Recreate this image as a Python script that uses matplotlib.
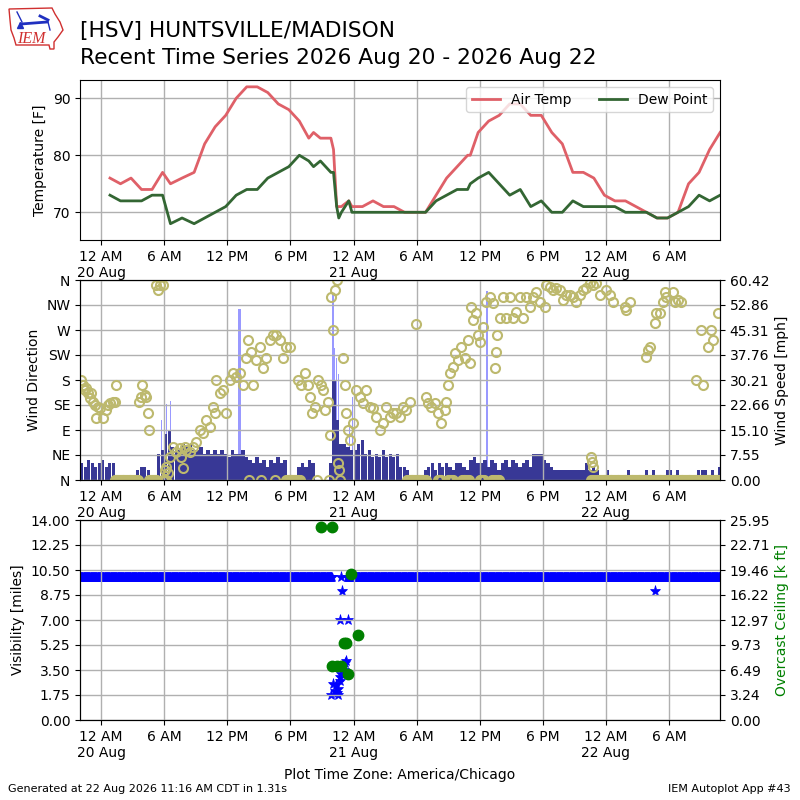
import numpy as np
import matplotlib
matplotlib.use("Agg")
import matplotlib.pyplot as plt
from matplotlib.patches import Polygon

# ---------------- data (x = hours since 20 Aug 2026 00:00 CDT) ----------------
x_range = (-2.0, 58.84)
tick_hours = [0, 6, 12, 18, 24, 30, 36, 42, 48, 54]
tick_labels = ["12 AM\n20 Aug", "6 AM", "12 PM", "6 PM", "12 AM\n21 Aug",
               "6 AM", "12 PM", "6 PM", "12 AM\n22 Aug", "6 AM"]

temp_hours = [0.85, 1.85, 2.85, 3.85, 4.85, 5.85, 6.6, 7.7, 8.85, 9.85, 10.85,
              11.85, 12.85, 13.85, 14.85, 15.85, 16.85, 17.85, 18.85, 19.75,
              20.2, 20.85, 21.85, 22.1, 22.4, 22.6, 22.85, 23.55, 23.85, 24.85,
              25.85, 26.85, 27.85, 28.85, 29.85, 30.85, 31.85, 32.85, 33.85,
              34.85, 35.1, 35.85, 36.85, 37.85, 38.85, 39.85, 40.85, 41.85,
              42.85, 43.85, 44.85, 45.85, 46.85, 47.85, 48.85, 49.85, 50.85,
              51.85, 52.85, 53.85, 54.85, 55.85, 56.85, 57.85, 58.85]
air_temp = [76, 75, 76, 74, 74, 77, 75, 76, 77, 82, 85,
            87, 90, 92, 92, 91, 89, 88, 86, 83,
            84, 83, 83, 81, 71, 71, 71, 72, 71, 71,
            72, 71, 71, 70, 70, 70, 73, 76, 78,
            80, 80, 84, 86, 87, 89, 89, 87, 87,
            84, 82, 77, 77, 76, 73, 72, 72, 71,
            70, 69, 69, 70, 75, 77, 81, 84]
dew_point = [73, 72, 72, 72, 73, 73, 68, 69, 68, 69, 70,
             71, 73, 74, 74, 76, 77, 78, 80, 79,
             78, 79, 77, 77, 71, 69, 70, 72, 70, 70,
             70, 70, 70, 70, 70, 70, 72, 73, 74,
             74, 75, 76, 77, 75, 73, 74, 71, 72,
             70, 70, 72, 71, 71, 71, 71, 70, 70,
             70, 69, 69, 70, 71, 73, 72, 73]

# wind speed [mph], 20-minute blocks starting at hour -2.0
speed_start = -2.0
wind_speed = [5, 4, 6, 5, 4, 5, 6, 4, 5, 5, 0, 0, 0, 0, 0, 0, 3, 4, 4, 3, 0,
              0, 8, 9, 14, 15, 10, 10, 9, 11, 10, 11, 9, 9, 10, 8, 9, 8, 9,
              8, 9, 8, 7, 9, 8, 8, 9, 7, 6, 5, 7, 5, 6, 4, 6, 5, 7, 5, 6, 0,
              0, 0, 4, 5, 4, 6, 5, 0, 0, 0, 0, 5, 30, 18, 11, 11, 10, 9,
              9, 11, 12, 8, 9, 7, 8, 7, 9, 7, 8, 7, 8, 4, 4, 3, 0, 0, 0, 0, 3,
              4, 5, 3, 5, 4, 5, 4, 3, 5, 5, 4, 3, 6, 7, 5, 5, 6, 4, 6, 5, 3,
              5, 6, 4, 6, 5, 4, 5, 6, 4, 8, 8, 8, 6, 5, 4, 3, 3, 3, 3, 3, 3,
              3, 3, 3, 5, 3, 4, 3, 0, 0, 3, 0, 0, 0, 0, 0, 3, 0, 0, 0, 0, 3,
              0, 3, 0, 0, 0, 3, 3, 0, 3, 0, 0, 0, 0, 0, 3, 3, 3, 0, 3, 0, 4]
gust_hours = [5.74, 6.2, 6.6, 13.1, 13.2, 22.05, 22.2, 22.4, 22.6, 23.6, 23.9, 36.7]
gust_speed = [18, 23, 24, 51.6, 51.6, 56.4, 40, 37, 32, 18, 25, 57]
speed_ticklabels = ["0.00", "7.55", "15.10", "22.66", "30.21", "37.76",
                    "45.31", "52.86", "60.42"]
speed_max = 60.416

dir_hours = [-1.87, -1.71, -1.55, -1.39, -1.24, -1.08, -0.92, -0.76, -0.60, -0.44,
             -0.29, -0.13, 0.19, 0.51, 0.67, 0.82, 1.14, 1.30, 1.39,
             3.61, 3.77, 3.93, 4.15, 4.31, 4.47, 4.56,
             5.26, 5.42, 5.58, 5.89, 6.05, 6.21, 6.37, 6.53, 6.84, 7.16, 7.48,
             7.64, 7.79, 7.95, 8.11, 8.43, 8.75, 9.06, 9.38, 9.70, 10.01,
             10.33, 10.65, 10.80, 10.96, 11.28, 11.60, 11.91, 12.23, 12.55,
             12.86, 13.18, 13.50, 13.81, 13.97, 14.29, 14.45, 14.77, 15.08,
             15.40, 15.72, 16.03, 16.35, 16.67, 16.98, 17.30, 17.62, 17.93,
             18.73, 19.04, 19.36, 19.68, 19.84, 20.09, 20.31, 20.63, 20.94,
             21.10, 21.26, 21.58, 21.74, 21.89, 22.05, 22.21, 22.43, 22.53,
             22.62, 23.00, 23.16, 23.32, 23.48, 23.64, 23.95, 24.27, 24.59,
             24.90, 25.22, 25.54, 25.86, 26.17, 26.49, 26.81, 27.12, 27.44,
             27.76, 28.07, 28.39, 28.71, 29.03, 29.35, 29.91, 30.93, 31.09,
             31.40, 31.72, 32.04, 32.36, 32.67, 32.83, 32.99, 33.15, 33.46,
             33.62, 33.94, 34.26, 34.57, 34.89, 35.05, 35.21, 35.37, 35.68,
             35.84, 36.00, 36.31, 36.63, 36.95, 37.27, 37.42, 37.58, 37.64,
             37.90, 38.21, 38.53, 38.85, 39.17, 39.48, 39.80, 40.12, 40.43,
             40.75, 41.07, 41.39, 41.70, 42.18, 42.33, 42.65, 42.97, 43.29,
             43.60, 43.92, 44.24, 44.56, 44.87, 45.19, 45.51, 45.82, 46.14,
             46.46, 46.60, 46.70, 46.77, 46.80, 47.09, 47.41, 48.04, 48.36,
             48.68, 49.79, 49.94, 50.26, 51.84, 52.00, 52.16, 52.64, 52.79,
             53.11, 53.43, 53.59, 53.74, 54.38, 54.54, 54.86, 55.17, 56.60,
             57.07, 57.23, 57.71, 58.02, 58.18, 58.66,
             14.10, 15.20, 16.50, 20.55, 21.70, 22.70]
dir_deg = [180, 171, 162, 165, 156, 147, 156, 141, 135, 111,
           132, 129, 111, 126, 135, 138, 141, 141, 171,
           141, 150, 171, 153, 150, 120, 90,
           351, 342, 351, 351, 18, 24, 12, 42, 60, 51, 57,
           42, 21, 60, 54, 51, 60, 69, 90, 84, 108,
           96, 132, 120, 180, 156, 162, 120, 180, 192,
           186, 192, 171, 219, 252, 231, 171, 216, 240,
           201, 219, 252, 261, 261, 252, 219, 240, 240,
           180, 171, 192, 171, 150, 120, 132, 180, 171,
           162, 126, 141, 81, 330, 270, 342, 360, 30,
           18, 219, 171, 120, 90, 72, 102, 162, 150,
           138, 162, 132, 129, 114, 90, 102, 132, 114,
           120, 120, 114, 132, 126, 141, 280, 150, 138,
           132, 138, 120, 102, 126, 141, 171, 192, 204,
           228, 216, 240, 219, 252, 210, 312, 288, 300,
           261, 249, 276, 321, 330, 318, 201, 231, 261,
           291, 330, 291, 330, 291, 303, 330, 291, 330,
           312, 330, 339, 321, 312, 351, 348, 342, 345,
           342, 324, 333, 333, 330, 321, 333, 342, 345,
           354, 42, 33, 351, 24, 354, 333, 342, 333,
           321, 312, 306, 321, 222, 234, 240, 282, 300,
           300, 321, 339, 330, 339, 321, 324, 321, 180,
           270, 171, 240, 270, 252, 300,
           0, 0, 0, 0, 0, 0]
calm_segments = [(1.3, 3.5), (4.6, 5.3), (5.9, 6.2), (17.6, 19.0), (29.1, 30.9),
                 (32.0, 32.4), (33.0, 33.5), (34.3, 35.0), (36.0, 36.5),
                 (37.2, 37.9), (46.6, 58.84)]
dir_ticks = [0, 45, 90, 135, 180, 225, 270, 315, 360]
dir_labels = ["N", "NE", "E", "SE", "S", "SW", "W", "NW", "N"]

# visibility [miles]: steady 10 mi periods plus the lower reports
vis_steady_segments = [(-2.0, 21.95), (23.4, 58.84)]
vis_steady_value = 10.0
vis_hours = [22.85, 22.91, 22.69, 23.48, 23.17, 23.25, 23.07, 22.69, 22.05,
             22.37, 22.53, 22.21, 21.90, 22.53, 22.40, 22.70, 22.80, 52.7]
vis_miles = [10.0, 9.0, 7.0, 7.0, 4.0, 4.1, 3.5, 3.0, 2.5,
             2.45, 2.2, 2.0, 1.75, 1.75, 1.9, 2.75, 3.25, 9.0]
vis_max = 14.0

ceil_hours = [20.9, 21.96, 23.8, 24.43, 23.05, 23.25, 22.0, 22.4, 22.8, 23.48]
ceil_kft = [25.0, 25.0, 18.94, 11.03, 9.95, 9.95, 7.0, 7.0, 7.0, 5.97]
ceil_max = 25.95
ceil_ticklabels = ["0.00", "3.24", "6.49", "9.73", "12.97", "16.22", "19.46",
                   "22.71", "25.95"]

# ---------------- figure ----------------
plt.rcParams['font.family'] = ['DejaVu Sans']
fig = plt.figure(figsize=(8, 8), dpi=100)

def style_x(ax):
    ax.set_xlim(*x_range)
    ax.set_xticks(tick_hours)
    ax.set_xticklabels(tick_labels, fontsize=10)

# --- temperature panel
ax1 = fig.add_axes([0.1, 0.7, 0.8, 0.2])
ax1.plot(temp_hours, air_temp, color="#df6068", lw=2, label="Air Temp")
ax1.plot(temp_hours, dew_point, color="#336633", lw=2, label="Dew Point")
ax1.set_ylim(65.14, 93.2)
ax1.set_yticks([70, 80, 90])
ax1.tick_params(labelsize=10)
ax1.set_ylabel("Temperature [F]", fontsize=10)
ax1.grid(True, color="#b0b0b0", lw=1)
style_x(ax1)
ax1.legend(loc="upper right", ncol=2, fontsize=10, framealpha=0.8)

# --- wind panel
ax2 = fig.add_axes([0.1, 0.4, 0.8, 0.25])
ax2b = ax2.twinx()
bar_left = speed_start + np.arange(len(wind_speed)) / 3.0
ax2b.bar(gust_hours, gust_speed, width=0.12, color="#9999ff", lw=0, align="center")
ax2b.bar(bar_left, wind_speed, width=(1 / 3.0) * 0.95, align="edge",
         color="#383896", lw=0)
ax2b.set_ylim(0, speed_max)
ax2b.set_yticks(np.linspace(0, speed_max, 9))
ax2b.set_yticklabels(speed_ticklabels, fontsize=10)
ax2b.set_ylabel("Wind Speed [mph]", fontsize=10)

calm_h = np.concatenate([np.arange(a, b, 1 / 12.0) for a, b in calm_segments])
ax2.set_zorder(ax2b.get_zorder() + 1)
ax2.patch.set_visible(False)
ax2.plot(list(dir_hours) + list(calm_h), list(dir_deg) + [0] * len(calm_h),
         "o", mfc="none", mec="#bdb96e", ms=6.5, mew=1.5, ls="none")
ax2.set_ylim(0, 360)
ax2.set_yticks(dir_ticks)
ax2.set_yticklabels(dir_labels, fontsize=10)
ax2.set_ylabel("Wind Direction", fontsize=10)
ax2.grid(True, color="#b0b0b0", lw=1)
style_x(ax2)

# --- visibility / ceiling panel
ax3 = fig.add_axes([0.1, 0.1, 0.8, 0.25])
ax3b = ax3.twinx()
steady_h = np.concatenate([np.arange(a, b, 1 / 30.0) for a, b in vis_steady_segments])
ax3.plot(steady_h, [vis_steady_value] * len(steady_h), "*", color="b",
         ms=7.5, mew=0.5, ls="none", zorder=2)
ax3.plot(vis_hours, vis_miles, "*", color="b", ms=8, mew=0.5, ls="none", zorder=2)
ax3.set_ylim(0, vis_max)
vt = np.linspace(0, vis_max, 9)
ax3.set_yticks(vt)
ax3.set_yticklabels(["%.2f" % v for v in vt], fontsize=10)
ax3.set_ylabel("Visibility [miles]", fontsize=10)
ax3.set_axisbelow(False)
ax3.grid(True, color="#b0b0b0", lw=1)
style_x(ax3)

ax3b.plot(ceil_hours, ceil_kft, "o", color="g", ms=7.5, ls="none")
ax3b.set_ylim(0, ceil_max)
ax3b.set_yticks(np.linspace(0, ceil_max, 9))
ax3b.set_yticklabels(ceil_ticklabels, fontsize=10)
ax3b.set_ylabel("Overcast Ceiling [k ft]", fontsize=10, color="g")
ax3b.set_xlim(*x_range)

# --- titles and footers
fig.text(0.1, 1 - 36.5 / 800, "[HSV] HUNTSVILLE/MADISON", fontsize=15.7, va="baseline")
fig.text(0.1, 1 - 63.5 / 800, "Recent Time Series 2026 Aug 20 - 2026 Aug 22",
         fontsize=15.7, va="baseline")
fig.text(0.5, 1 - 775 / 800, "Plot Time Zone: America/Chicago", fontsize=10,
         ha="center", va="center")
fig.text(8 / 800, 1 - 789 / 800, "Generated at 22 Aug 2026 11:16 AM CDT in 1.31s",
         fontsize=8, ha="left", va="center")
fig.text(791 / 800, 1 - 789 / 800, "IEM Autoplot App #43", fontsize=8,
         ha="right", va="center")

# --- logo (approximation)
axl = fig.add_axes([0.0, 1 - 54 / 800, 72 / 800, 54 / 800])
axl.set_xlim(0, 72)
axl.set_ylim(54, 0)
axl.axis("off")
outline = [(9, 9), (52, 8), (55, 14), (60, 22), (63, 30), (58, 37), (54, 42),
           (54, 49), (50, 49), (49, 45), (16, 45), (14, 38), (11, 30), (10, 20)]
axl.add_patch(Polygon(outline, closed=True, fill=False, ec="#d03030", lw=1))
axl.plot([21, 47], [24, 22], color="#2030c0", lw=2)
axl.plot([17, 22], [12, 22], color="#2030c0", lw=1)
axl.plot([40, 48], [16, 20], color="#2030c0", lw=2)
axl.plot([48, 50], [22, 30], color="#2030c0", lw=1)
axl.plot([20], [25], marker="^", color="#2030c0", ms=4)
axl.text(31, 39, "IEM", color="#d03030", fontsize=11.5, family="Liberation Serif",
         style="italic", ha="center", va="center")

fig.savefig("out.png", dpi=100)
